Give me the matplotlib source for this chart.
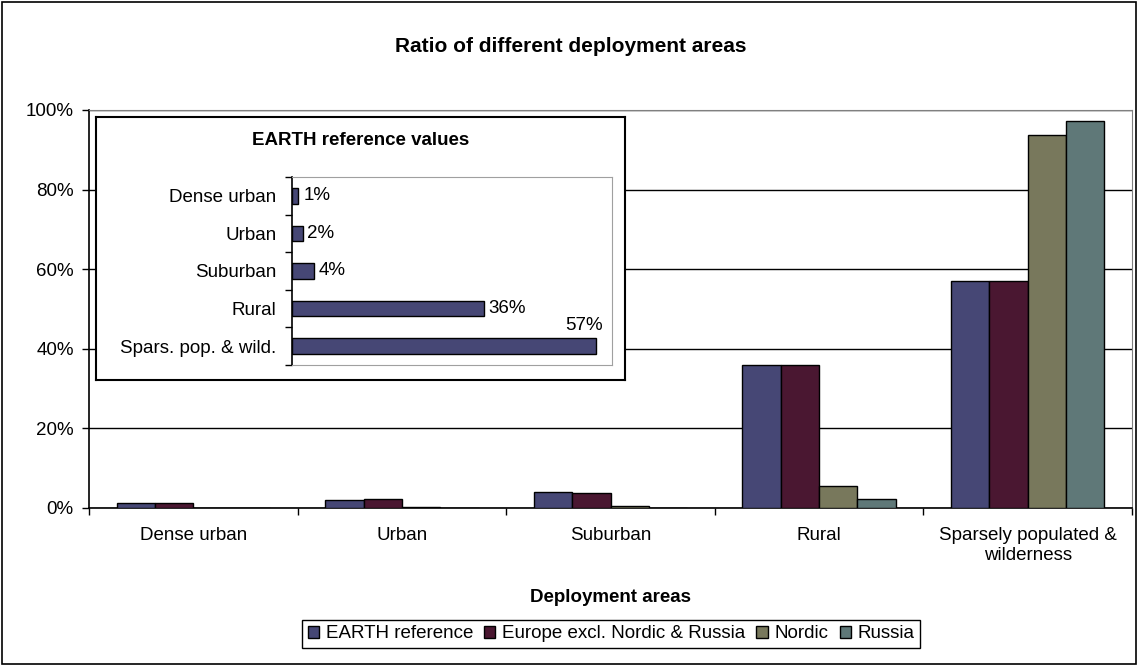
import numpy as np
import matplotlib
matplotlib.use("Agg")
import matplotlib.pyplot as plt
from matplotlib.patches import Rectangle

plt.rcParams['font.family'] = ['Liberation Sans', 'DejaVu Sans']

# data
areas = ['Dense urban', 'Urban', 'Suburban', 'Rural', 'Sparsely populated &\nwilderness']
inset_areas = ['Dense urban', 'Urban', 'Suburban', 'Rural', 'Spars. pop. & wild.']
series_names = ['EARTH reference', 'Europe excl. Nordic & Russia', 'Nordic', 'Russia']
earth = [1.2, 2.0, 4.1, 36.0, 57.0]
europe = [1.2, 2.3, 3.7, 36.0, 57.0]
nordic = [0.0, 0.3, 0.4, 5.6, 93.7]
russia = [0.0, 0.0, 0.0, 2.2, 97.3]
colors = ['#464775', '#4A1731', '#78785C', '#5F7878']
yticks = [0, 20, 40, 60, 80, 100]

W, H = 1137, 665
FS = 13.5
fig = plt.figure(figsize=(W / 100, H / 100), dpi=100)


def px_box(x0, y0, x1, y1):
    return [x0 / W, 1 - y1 / H, (x1 - x0) / W, (y1 - y0) / H]


# main chart
ax = fig.add_axes(px_box(89, 110, 1132, 508))
x = np.arange(len(areas))
w = 0.184
for i, vals in enumerate([earth, europe, nordic, russia]):
    ax.bar(x + (i - 1.5) * w, vals, w, color=colors[i], edgecolor='black',
           linewidth=1, label=series_names[i], zorder=3)

ax.set_xlim(-0.5, 4.5)
ax.set_ylim(0, 100)
ax.set_yticks(yticks)
ax.set_yticklabels(['%d%%' % v for v in yticks], fontsize=FS)
ax.yaxis.grid(True, color='black', linewidth=1)
ax.set_axisbelow(True)
ax.set_xticks(x)
ax.set_xticklabels(areas, fontsize=FS)
ax.set_xticks(np.arange(-0.5, 5, 1), minor=True)
ax.tick_params(axis='x', which='major', length=0, pad=14)
ax.tick_params(axis='x', which='minor', length=5, direction='out', width=1)
ax.tick_params(axis='y', length=5, width=1, pad=6)
for s in ['top', 'right']:
    ax.spines[s].set_color('#808080')
for s in ['left', 'bottom']:
    ax.spines[s].set_color('black')
    ax.spines[s].set_linewidth(1.2)

fig.text(571 / W, 1 - 47 / H, 'Ratio of different deployment areas',
         ha='center', va='center', fontsize=15, fontweight='bold')
fig.text(610 / W, 1 - 598 / H, 'Deployment areas',
         ha='center', va='center', fontsize=FS, fontweight='bold')

leg = fig.legend(loc='center', bbox_to_anchor=(611 / W, 1 - 634 / H), ncol=4,
                 fontsize=FS, handlelength=0.6, handleheight=0.6,
                 handletextpad=0.35, columnspacing=0.6, borderpad=0.3,
                 fancybox=False, framealpha=1, edgecolor='black')
leg.get_frame().set_linewidth(1)

# inset with EARTH values
box = fig.add_axes(px_box(96, 117, 625, 380))
box.set_zorder(2)
box.set_xticks([])
box.set_yticks([])
for s in box.spines.values():
    s.set_color('black')
    s.set_linewidth(1.5)
box.text(0.5, 1 - 24 / 263, 'EARTH reference values', transform=box.transAxes,
         ha='center', va='center', fontsize=FS, fontweight='bold')

ins = fig.add_axes(px_box(292, 177, 612, 365))
ins.set_zorder(3)
ins.patch.set_alpha(0)
yy = np.arange(len(inset_areas))
ins.barh(yy, earth, height=0.42, color=colors[0], edgecolor='black', linewidth=1)
ins.set_xlim(0, 60)
ins.set_ylim(4.5, -0.5)
ins.set_xticks([])
ins.set_yticks(yy)
ins.set_yticklabels(inset_areas, fontsize=FS)
ins.set_yticks(np.arange(-0.5, 5, 1), minor=True)
ins.tick_params(axis='y', which='major', length=0, pad=11)
ins.tick_params(axis='y', which='minor', length=5, width=1)
for s in ['top', 'right', 'bottom']:
    ins.spines[s].set_color('#A0A0A0')
ins.spines['left'].set_color('black')
ins.spines['left'].set_linewidth(1.2)
for i, v in enumerate(earth):
    if i == len(earth) - 1:
        ins.text(v + 1.2, i - 0.56, '%d%%' % round(v), ha='right', va='center', fontsize=FS)
    else:
        ins.text(v + 0.9, i, '%d%%' % round(v), ha='left', va='center', fontsize=FS)

# outer frame
fig.patches.append(Rectangle((1.5 / W, 1.5 / H), (W - 3) / W, (H - 3) / H,
                             transform=fig.transFigure, fill=False,
                             edgecolor='black', linewidth=1.2))

fig.savefig('out.png', dpi=100)
